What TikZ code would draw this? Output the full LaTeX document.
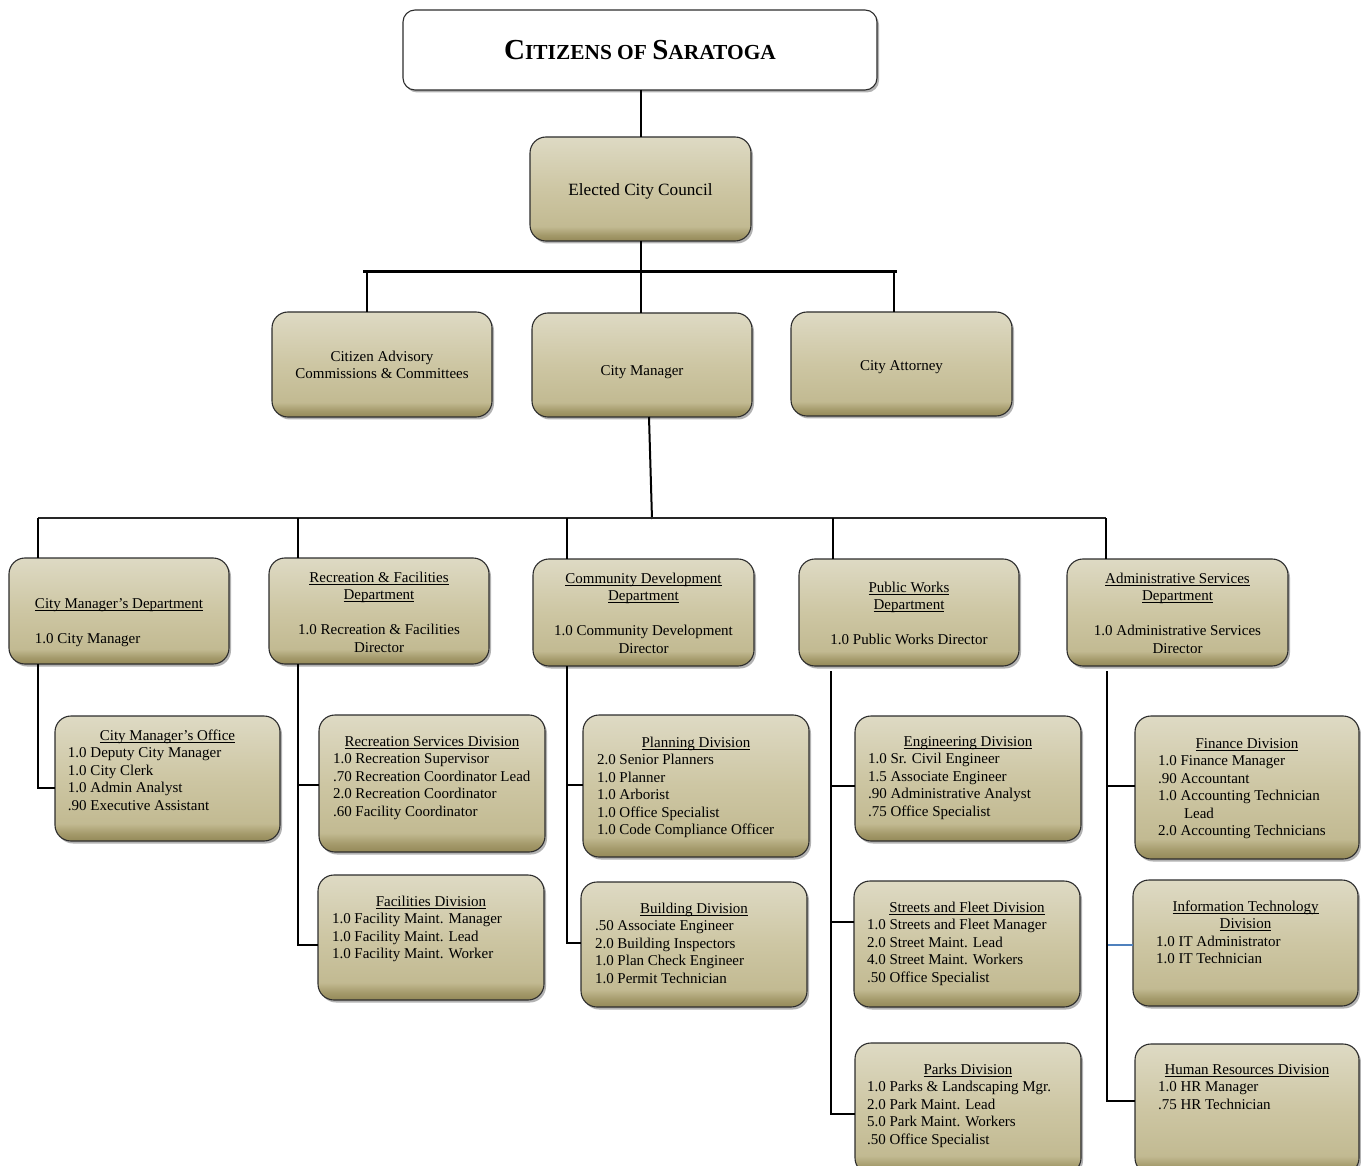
\documentclass[tikz,border=0pt]{standalone}
\usepackage{fontspec}
\setmainfont{Liberation Serif}
\usetikzlibrary{shadows}
\definecolor{tanTop}{RGB}{222,218,196}
\definecolor{tanMid}{RGB}{205,198,163}
\definecolor{tanLow}{RGB}{194,186,146}
\definecolor{tanDark}{RGB}{164,154,107}
\definecolor{tanBot}{RGB}{148,137,88}
\definecolor{edge}{RGB}{45,45,45}
\definecolor{itblue}{RGB}{79,129,189}
\pgfdeclareverticalshading{tanshade}{100bp}{color(0bp)=(tanBot); color(25bp)=(tanBot); color(28bp)=(tanDark); color(32bp)=(tanLow); color(50bp)=(tanMid); color(75bp)=(tanTop); color(100bp)=(tanTop)}
\newsavebox\ulbox
\newcommand\ulx[1]{\leavevmode\sbox\ulbox{#1}\rlap{\rule[-2.6pt]{\wd\ulbox}{0.9pt}}\usebox\ulbox}
\newcommand\bodyfont{\fontsize{15}{17.5}\selectfont}
\newcommand\divnode[9]{%
  \pgfmathsetmacro\bw{#4-#2}\pgfmathsetmacro\bh{#5-#3}%
  \node[tanbox, anchor=north west] (#1) at (#2,#3) {\begin{minipage}[c][\bh pt][t]{\bw pt}\bodyfont\vspace*{#6pt}{\centering\strut #8\par}{\raggedright\leftskip=#7pt #9\par}\end{minipage}};}
\newcommand\deptnode[7]{%
  \pgfmathsetmacro\bw{#4-#2}\pgfmathsetmacro\bh{#5-#3}%
  \node[tanbox, anchor=north west] (#1) at (#2,#3) {\begin{minipage}[c][\bh pt][t]{\bw pt}\bodyfont\vspace*{#6pt}\centering\strut #7\par\end{minipage}};}
\tikzset{
  boxbase/.style={draw=edge, line width=1.1pt, rounded corners=16pt, inner sep=0pt, outer sep=0pt,
    drop shadow={shadow xshift=2pt, shadow yshift=-2.5pt, opacity=0.3, fill=black}},
  tanbox/.style={boxbase, shading=tanshade},
  topbox/.style={tanbox, align=center, font=\bodyfont},
  conn/.style={draw=black, line width=2pt},
  bar/.style={draw=black, line width=3pt},
  lbar/.style={draw=black!85, line width=1.6pt},
  itconn/.style={draw=itblue, line width=1.6pt}
}
\begin{document}
\begin{tikzpicture}[x=1pt, y=-1pt]
\useasboundingbox (0,0) rectangle (1361,1166);
\fill[white] (0,0) rectangle (1361,1166);

% top level
\node[boxbase, fill=white, rounded corners=12pt, anchor=north west, minimum width=474pt, minimum height=80pt] (citz) at (403,10)
  {\bfseries{\fontsize{29}{30}\selectfont C}{\fontsize{21.4}{24}\selectfont ITIZENS OF }{\fontsize{29}{30}\selectfont S}{\fontsize{21.4}{24}\selectfont ARATOGA}};
\node[topbox, anchor=north west, minimum width=221pt, minimum height=104pt, font=\fontsize{17.2}{20}\selectfont] (council) at (530,137) {\raisebox{0pt}[13pt][0pt]{Elected City Council}};
\deptnode{cac}{272}{312}{492}{417}{37}{Citizen Advisory\\ Commissions \& Committees}
\deptnode{cmgr}{532}{313}{752}{417}{50}{City Manager}
\deptnode{atty}{791}{312}{1012}{416}{46}{City Attorney}

% departments
\node[tanbox, anchor=north west] (cmd) at (9,558) {\begin{minipage}[c][106pt][t]{220pt}\bodyfont\vspace*{38pt}\raggedright\leftskip=26pt\strut\ulx{City Manager's Department}\\ \mbox{}\\ 1.0 City Manager\par\end{minipage}};
\deptnode{rfd}{269}{558}{489}{664}{12}{\ulx{Recreation \& Facilities}\\ \ulx{Department}\\ \mbox{}\\ 1.0 Recreation \& Facilities\\ Director}
\deptnode{cdd}{533}{559}{754}{666}{12}{\ulx{Community Development}\\ \ulx{Department}\\ \mbox{}\\ 1.0 Community Development\\ Director}
\deptnode{pwd}{799}{559}{1019}{666}{21}{\ulx{Public Works}\\ \ulx{Department}\\ \mbox{}\\ 1.0 Public Works Director}
\deptnode{asd}{1067}{559}{1288}{666}{12}{\ulx{Administrative Services}\\ \ulx{Department}\\ \mbox{}\\ 1.0 Administrative Services\\ Director}

% divisions
\divnode{cmo}{55}{716}{280}{841}{12}{13}{\ulx{City Manager's Office}}{1.0 Deputy City Manager\\ 1.0 City Clerk\\ 1.0 Admin Analyst\\ .90 Executive Assistant}
\divnode{rsd}{319}{715}{545}{852}{19}{14}{\ulx{Recreation Services Division}}{1.0 Recreation Supervisor\\ .70 Recreation Coordinator Lead\\ 2.0 Recreation Coordinator\\ .60 Facility Coordinator}
\divnode{fac}{318}{875}{544}{1000}{19}{14}{\ulx{Facilities Division}}{1.0 Facility Maint. Manager\\ 1.0 Facility Maint. Lead\\ 1.0 Facility Maint. Worker}
\divnode{pln}{583}{715}{809}{857}{20}{14}{\ulx{Planning Division}}{2.0 Senior Planners\\ 1.0 Planner\\ 1.0 Arborist\\ 1.0 Office Specialist\\ 1.0 Code Compliance Officer}
\divnode{bld}{581}{882}{807}{1007}{19}{14}{\ulx{Building Division}}{.50 Associate Engineer\\ 2.0 Building Inspectors\\ 1.0 Plan Check Engineer\\ 1.0 Permit Technician}
\divnode{eng}{855}{716}{1081}{841}{18}{13}{\ulx{Engineering Division}}{1.0 Sr. Civil Engineer\\ 1.5 Associate Engineer\\ .90 Administrative Analyst\\ .75 Office Specialist}
\divnode{str}{854}{881}{1080}{1007}{19}{13}{\ulx{Streets and Fleet Division}}{1.0 Streets and Fleet Manager\\ 2.0 Street Maint. Lead\\ 4.0 Street Maint. Workers\\ .50 Office Specialist}
\divnode{prk}{855}{1043}{1081}{1174}{19}{12}{\ulx{Parks Division}}{1.0 Parks \& Landscaping Mgr.\\ 2.0 Park Maint. Lead\\ 5.0 Park Maint. Workers\\ .50 Office Specialist}
\divnode{fin}{1135}{716}{1359}{859}{20}{23}{\ulx{Finance Division}}{1.0 Finance Manager\\ .90 Accountant\\ 1.0 Accounting Technician\\ \hspace*{26pt}Lead\\ 2.0 Accounting Technicians}
\divnode{itd}{1133}{880}{1358}{1006}{19}{23}{\ulx{Information Technology}\\ \ulx{Division}}{1.0 IT Administrator\\ 1.0 IT Technician}
\divnode{hrd}{1135}{1044}{1359}{1174}{18}{23}{\ulx{Human Resources Division}}{1.0 HR Manager\\ .75 HR Technician}

% upper connectors
\coordinate (tbL) at (363,272);
\coordinate (tbR) at (897,272);
\coordinate (vMid) at (641,272);
\coordinate (vCac) at (367,272);
\coordinate (vAtty) at (894,272);
\draw[conn] (vMid |- citz.south) -- (vMid |- council.north);
\draw[conn] (vMid |- council.south) -- (vMid);
\draw[bar] (tbL) -- (tbR);
\draw[conn] (vCac) -- (vCac |- cac.north);
\draw[conn] (vMid) -- (vMid |- cmgr.north);
\draw[conn] (vAtty) -- (vAtty |- atty.north);

% lower bar
\coordinate (lbL) at (38,518);
\coordinate (lbR) at (1106,518);
\coordinate (lbC) at (652,519);
\coordinate (v2) at (298,518);
\coordinate (v3) at (567,518);
\coordinate (v4) at (833,518);
\draw[conn] ([xshift=7pt]cmgr.south) -- (lbC);
\draw[lbar] (lbL) -- (lbR);
\draw[conn] (lbL) -- (lbL |- cmd.north);
\draw[conn] (v2) -- (v2 |- rfd.north);
\draw[conn] (v3) -- (v3 |- cdd.north);
\draw[conn] (v4) -- (v4 |- pwd.north);
\draw[conn] (lbR) -- (lbR |- asd.north);

% division branches
\coordinate (bCmo) at (38,788);
\coordinate (bRsd) at (298,785);
\coordinate (bFac) at (298,945);
\coordinate (bPln) at (567,785);
\coordinate (bBld) at (567,943);
\coordinate (pwT) at (831,671);
\coordinate (bEng) at (831,786);
\coordinate (bStr) at (831,922);
\coordinate (bPrk) at (831,1114);
\coordinate (asT) at (1107,671);
\coordinate (bFin) at (1107,786);
\coordinate (bIt) at (1107,945);
\coordinate (bHr) at (1107,1101);
\draw[conn] (lbL |- cmd.south) |- (bCmo -| cmo.west);
\draw[conn] (v2 |- rfd.south) |- (bRsd -| rsd.west);
\draw[conn] (v2 |- rfd.south) |- (bFac -| fac.west);
\draw[conn] (v3 |- cdd.south) |- (bPln -| pln.west);
\draw[conn] (v3 |- cdd.south) |- (bBld -| bld.west);
\draw[conn] (pwT) |- (bEng -| eng.west);
\draw[conn] (pwT) |- (bStr -| str.west);
\draw[conn] (pwT) |- (bPrk -| prk.west);
\draw[itconn] (bIt) -- (bIt -| itd.west);
\draw[conn] (asT) |- (bFin -| fin.west);
\draw[conn] (asT) |- (bHr -| hrd.west);
\end{tikzpicture}
\end{document}
